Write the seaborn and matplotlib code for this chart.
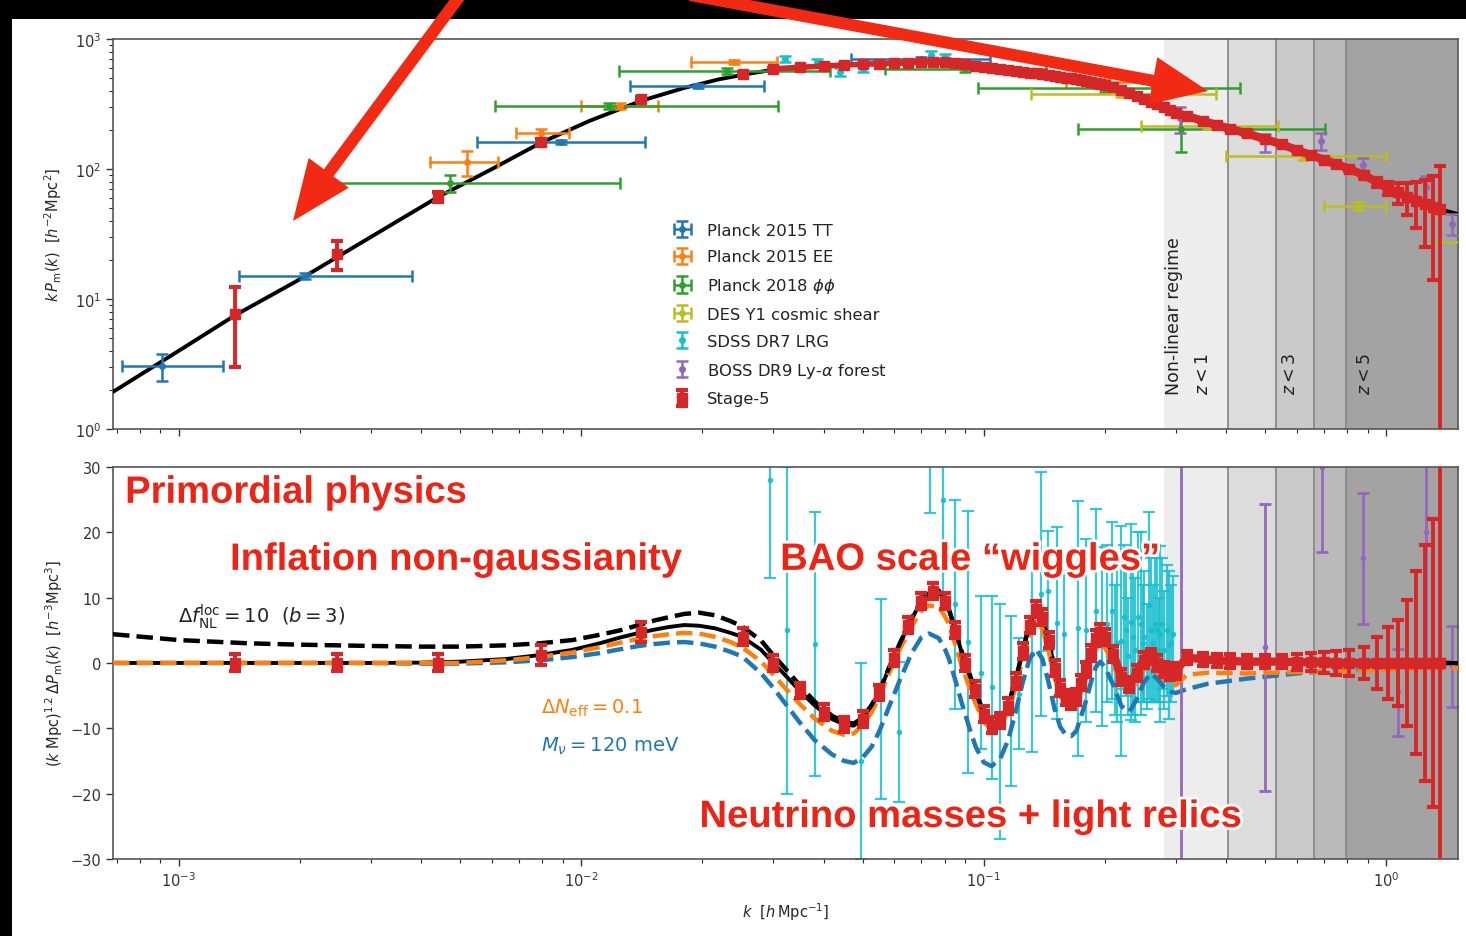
import numpy as np
import pandas as pd
import matplotlib
matplotlib.use('Agg')
import matplotlib.pyplot as plt
import matplotlib.patheffects as pe
from matplotlib.patches import FancyArrow, Rectangle
import seaborn as sns

# ---------------- data ----------------
# top panel: linear theory k P(k)
lin_k = [6.86e-4, 8e-4, 1e-3, 1.38e-3, 2e-3, 3e-3, 4.41e-3, 6e-3, 7.96e-3, 0.0105,
         0.0141, 0.018, 0.022, 0.026, 0.03, 0.035, 0.04, 0.05, 0.06, 0.07,
         0.08, 0.09, 0.1, 0.12, 0.14, 0.17, 0.2, 0.23, 0.26, 0.31,
         0.36, 0.41, 0.5, 0.6, 0.7, 0.8, 0.9, 1.0, 1.1, 1.2, 1.36, 1.51]
lin_P = [1.93, 2.6, 4.0, 7.5, 14.2, 30, 61, 100, 160, 235,
         335, 420, 490, 540, 580, 605, 620, 640, 650, 665,
         665, 640, 610, 570, 537, 490, 440, 385, 330, 262,
         228, 204, 170, 140, 118, 102, 86, 72, 63, 57, 49, 45]

# bottom panel: residual curves on a common k grid
curve_k = [6.86e-4, 1e-3, 1.5e-3, 2e-3, 3e-3, 4e-3, 5e-3, 6.5e-3, 7.86e-3, 0.0095,
           0.0111, 0.0125, 0.0139, 0.0152, 0.0165, 0.018, 0.0196, 0.0215, 0.0235, 0.0251,
           0.028, 0.030, 0.0325, 0.0348, 0.038, 0.042, 0.045, 0.0475, 0.050, 0.0527,
           0.055, 0.0581, 0.062, 0.0662, 0.070, 0.0731, 0.0773, 0.080, 0.0818, 0.085,
           0.0881, 0.092, 0.0955, 0.100, 0.1046, 0.110, 0.115, 0.120, 0.125, 0.130,
           0.135, 0.140, 0.145, 0.150, 0.155, 0.160, 0.165, 0.170, 0.175, 0.180,
           0.185, 0.190, 0.195, 0.200, 0.21, 0.22, 0.23, 0.24, 0.25, 0.26,
           0.27, 0.28, 0.29, 0.30, 0.32, 0.36, 0.45, 0.60, 0.80, 1.0, 1.51]
ref_v = [0, 0, 0, 0, 0, 0.05, 0.2, 0.6, 1.2, 2.0,
         3.0, 3.9, 4.6, 5.1, 5.5, 5.8, 5.7, 5.3, 4.6, 4.0,
         2.0, 0.0, -2.2, -4.2, -6.5, -8.6, -9.4, -9.6, -8.6, -6.6,
         -4.5, -0.9, 3.0, 6.7, 9.5, 10.7, 11.0, 9.5, 8.3, 5.0,
         1.7, -1.6, -4.4, -7.8, -9.5, -8.8, -6.6, -2.8, 1.8, 5.8,
         8.3, 7.0, 3.5, -0.8, -3.8, -5.3, -5.8, -5.2, -3.0, -1.0,
         1.5, 3.8, 4.7, 4.0, 1.4, -2.2, -3.3, -1.5, 0.5, 1.0,
         0.0, -1.0, -1.4, -1.2, 0.5, 0.4, 0.2, 0.1, 0.0, 0.0, 0.0]
fnl_v = [4.4, 3.5, 3.0, 2.8, 2.6, 2.5, 2.5, 2.7, 3.0, 3.5,
         4.3, 5.0, 5.8, 6.5, 7.0, 7.5, 7.7, 7.3, 6.4, 5.6,
         3.4, 1.2, -1.2, -3.3, -5.9, -8.1, -9.0, -9.3, -8.4, -6.4,
         -4.4, -0.8, 3.1, 6.8, 9.6, 10.8, 11.1, 9.6, 8.4, 5.1,
         1.8, -1.5, -4.3, -7.7, -9.4, -8.7, -6.5, -2.7, 1.9, 5.9,
         8.3, 7.0, 3.5, -0.8, -3.8, -5.3, -5.8, -5.2, -3.0, -1.0,
         1.5, 3.8, 4.7, 4.0, 1.4, -2.2, -3.3, -1.5, 0.5, 1.0,
         0.0, -1.0, -1.4, -1.2, 0.5, 0.4, 0.2, 0.1, 0.0, 0.0, 0.0]
neff_v = [0, 0, 0, 0, 0, 0, 0, 0.4, 0.9, 1.6,
          2.4, 3.1, 3.7, 4.1, 4.4, 4.6, 4.5, 4.0, 3.2, 2.4,
          0.2, -1.8, -4.2, -6.2, -8.5, -10.4, -11.0, -10.8, -9.6, -7.5,
          -5.2, -1.7, 2.2, 5.6, 8.0, 8.8, 8.6, 7.2, 6.0, 2.8,
          -0.4, -3.6, -6.2, -9.0, -10.2, -9.6, -7.4, -3.8, 0.6, 4.3,
          6.3, 5.2, 1.8, -2.2, -5.0, -6.4, -6.8, -6.2, -4.2, -2.2,
          0.3, 2.2, 3.0, 2.4, -0.2, -3.4, -4.4, -3.0, -1.0, -0.4,
          -1.4, -2.4, -3.2, -3.4, -1.8, -1.5, -1.6, -1.4, -1.2, -1.0, -0.8]
mnu_v = [0, 0, 0, 0, 0, -0.1, -0.1, 0.1, 0.4, 0.9,
         1.5, 2.1, 2.6, 2.9, 3.1, 3.2, 3.0, 2.5, 1.7, 1.0,
         -1.6, -3.8, -6.6, -9.0, -11.8, -14.0, -15.0, -15.3, -14.5, -12.8,
         -10.5, -6.8, -2.5, 1.5, 3.9, 4.5, 3.8, 2.2, 0.8, -2.6,
         -6.0, -9.8, -12.8, -15.2, -15.8, -14.6, -11.8, -7.6, -3.0, 0.6,
         2.1, 0.6, -3.0, -7.0, -9.8, -11.0, -11.2, -10.4, -8.0, -5.6,
         -2.8, -0.6, 0.2, -0.6, -3.4, -6.6, -7.5, -5.6, -3.0, -1.6,
         -2.4, -3.6, -4.4, -4.6, -4.0, -3.2, -2.4, -1.6, -1.0, -0.7, -0.4]

# Planck 2015 TT
tt_k = [9.06e-4, 2.06e-3, 8.9e-3, 0.0195, 0.070]
tt_P = [3.05, 15.0, 161, 435, 702]
tt_lo = [7.24e-4, 1.41e-3, 5.52e-3, 0.0132, 0.0468]
tt_hi = [1.29e-3, 3.80e-3, 0.0144, 0.0284, 0.1037]
tt_err = [0.72, 0.8, 6, 12, 20]
# Planck 2015 EE
ee_k = [5.21e-3, 7.96e-3, 0.0125, 0.024, 0.20]
ee_P = [113, 189, 305, 665, 470]
ee_lo = [4.21e-3, 6.9e-3, 0.0100, 0.0187, 0.16]
ee_hi = [6.22e-3, 9.3e-3, 0.0155, 0.0306, 0.26]
ee_err = [25, 15, 15, 25, 20]
# Planck 2018 lensing
pp_k = [4.73e-3, 0.0117, 0.023, 0.09, 0.20, 0.31]
pp_P = [78, 305, 568, 590, 418, 204]
pp_lo = [2.41e-3, 6.12e-3, 0.0124, 0.057, 0.097, 0.172]
pp_hi = [0.0125, 0.0308, 0.0416, 0.143, 0.433, 0.706]
pp_err = [12, 15, 30, 30, 30, 68]
# DES Y1 cosmic shear
des_k = [0.22, 0.36, 0.62, 0.85, 1.70]
des_P = [377, 214, 126, 52, 27.5]
des_lo = [0.131, 0.246, 0.40, 0.70, 1.31]
des_hi = [0.377, 0.54, 1.0, 1.0, 2.2]
des_err = [20, 12, 8, 4, 2]
# SDSS DR7 LRG
sdss_top_k = [0.032, 0.0386, 0.044, 0.05, 0.074, 0.08]
sdss_top_P = [700, 660, 560, 590, 760, 730]
sdss_top_err = [40, 40, 40, 30, 50, 40]
sdss_k = [0.0295, 0.0325, 0.0382, 0.0497, 0.0555, 0.0617, 0.0735, 0.0794, 0.0850, 0.0912,
          0.0985, 0.1046, 0.110, 0.1167, 0.1222, 0.1318, 0.139, 0.1445, 0.1525, 0.158,
          0.172, 0.180, 0.190, 0.197, 0.203, 0.209, 0.212, 0.215, 0.220, 0.223,
          0.226, 0.229, 0.232, 0.235, 0.238, 0.242, 0.246, 0.249, 0.251, 0.254,
          0.257, 0.260, 0.263, 0.266, 0.269, 0.272, 0.275, 0.278, 0.281, 0.285,
          0.288, 0.292, 0.296]
sdss_v = [28, 5, 2.9, -15, -5.5, -10.6, 32, 25, 9, 3.2,
          -1.5, -3.7, -9, -5.8, -4.7, 1.4, 10.6, 11, 6.1, 4.5,
          5.3, 5, 8, 4.1, 6, 8, 2, 3, 3.4, 7,
          5, 1, 6.3, 4, 2, 7, 6, 3, 4, 1,
          8.8, 5, 3, 6, 5, 2, 4.4, 6, 2, 5,
          2.7, 3, 4.4]
sdss_err = [15, 25, 20.2, 15, 15.3, 10.7, 9, 15, 16, 20,
            11.7, 14, 18, 13, 8.5, 15, 18.7, 9.2, 14.7, 9.6,
            19.5, 14, 15.5, 13.7, 12, 13.5, 10, 12, 17.6, 11,
            10, 9, 15, 12, 11, 13, 14, 9, 10, 8,
            14.3, 11, 9, 12, 11, 8, 13.5, 10, 9, 10,
            11.3, 9, 8.9]
# BOSS DR9 Ly-alpha forest
boss_top_k = [0.308, 0.50, 0.69, 0.877, 1.26, 1.46]
boss_top_P = [245, 160, 165, 107, 73, 38]
boss_top_err = [55, 25, 25, 15, 15, 7]
boss_k = [0.31, 0.501, 0.694, 0.877, 1.07, 1.26, 1.46]
boss_v = [0, 2.4, 30, 16, -4.5, 20, -0.5]
boss_err = [60, 22, 13, 10, 6.7, 20, 6.2]

# Stage-5 forecast
s5_low_k = [1.38e-3, 2.47e-3, 4.41e-3, 7.96e-3, 0.0141, 0.0252]
s5_low_P = [7.7, 22.2, 61, 161, 346, 540]
s5_low_Perr = [4.7, 5.6, 5, 8, 15, 15]
s5_low_v = [0, 0, 0, 1.2, 4.7, 4.0]
s5_low_verr = [1.3, 1.3, 1.3, 1.5, 1.5, 1.3]

s5_bao_k = [0.030, 0.035, 0.040, 0.045, 0.050, 0.055, 0.060, 0.065, 0.070, 0.075,
            0.080, 0.085, 0.090, 0.095, 0.100, 0.105, 0.110, 0.115, 0.120, 0.125,
            0.130, 0.135, 0.140, 0.145, 0.150, 0.155, 0.160, 0.165, 0.170, 0.175,
            0.180, 0.185, 0.190, 0.195, 0.200]
s5_bao_P = [590, 605, 620, 630, 640, 645, 650, 655, 665, 670,
            665, 655, 640, 625, 610, 600, 590, 580, 570, 560,
            552, 545, 537, 528, 520, 512, 505, 497, 490, 482,
            473, 465, 455, 448, 440]
s5_bao_v = [0.0, -4.2, -7.5, -9.4, -8.6, -4.5, 0.8, 5.8, 9.5, 11.0,
            9.5, 5.0, 0.0, -4.0, -7.8, -9.5, -8.8, -6.6, -2.8, 1.8,
            5.8, 8.3, 7.0, 3.5, -0.8, -3.8, -5.3, -5.8, -5.2, -3.0,
            -1.0, 1.5, 3.8, 4.7, 4.0]

s5_hi_k = [0.21, 0.22, 0.23, 0.24, 0.25, 0.26, 0.27, 0.28, 0.29, 0.30,
           0.32, 0.35, 0.38, 0.41, 0.45, 0.50, 0.55, 0.60, 0.65, 0.70,
           0.75, 0.81, 0.88, 0.95, 1.01, 1.07, 1.13, 1.19, 1.25, 1.31, 1.36]
s5_hi_P = [425, 405, 385, 365, 345, 330, 315, 300, 285, 272,
           255, 235, 218, 204, 188, 170, 155, 140, 128, 118,
           110, 100, 90, 79, 71, 66, 61, 57, 54, 51, 49]
s5_hi_Perr = [6, 6, 6, 6, 6, 6, 5, 5, 5, 5,
              5, 4, 4, 4, 4, 3, 3, 3, 3, 3,
              3, 3, 4, 6, 8, 12, 17, 22, 29, 37, 56]
s5_hi_v = [1.4, -2.2, -3.3, -1.5, 0.5, 1.0, 0.0, -1.0, -1.4, -1.2,
           0.8, 0.6, 0.4, 0.3, 0.2, 0.2, 0.2, 0.1, 0.1, 0.1,
           0.0, 0.0, 0.0, 0.0, 0.0, 0.0, 0.0, 0.0, 0.0, 0.0, 0.0]
s5_hi_verr = [1.2, 1.2, 1.2, 1.2, 1.2, 1.2, 1.2, 1.2, 1.2, 1.2,
              1.0, 1.0, 1.0, 1.0, 1.0, 1.0, 1.0, 1.2, 1.4, 1.6,
              1.8, 2.0, 2.5, 4.0, 5.5, 6.6, 9.7, 14, 18, 22, 40]

# non-linear regime bands
band_edges = [0.28, 0.405, 0.533, 0.663, 0.796, 1.51]
band_colors = ['#ededed', '#dcdcdc', '#cacaca', '#bababa', '#a3a3a3']
band_labels = [(0.297, 'Non-linear regime'), (0.35, '$z<1$'), (0.578, '$z<3$'), (0.887, '$z<5$')]

# ---------------- styling ----------------
sns.set_style('ticks')
plt.rcParams['font.family'] = ['DejaVu Sans']
plt.rcParams['mathtext.fontset'] = 'dejavusans'

C_TT, C_EE, C_PP, C_DES = '#1f77b4', '#ff7f0e', '#2ca02c', '#bcbd22'
C_SDSS, C_BOSS, C_S5 = '#17becf', '#9467bd', '#d62728'
RED = '#ec2416'

fig = plt.figure(figsize=(14.66, 9.37), dpi=100)
ax1 = fig.add_axes([0.0771, 0.5411, 0.9175, 0.4162])
ax2 = fig.add_axes([0.0771, 0.0822, 0.9175, 0.4184], sharex=ax1)
for ax in (ax1, ax2):
    ax.set_xscale('log')
ax1.set_yscale('log')
ax1.set_xlim(6.86e-4, 1.51)
ax1.set_ylim(1, 1000)
ax2.set_ylim(-30, 30)


def span(k, lo, hi):
    return [np.subtract(k, lo), np.subtract(hi, k)]


pt = dict(fmt='o', ms=4, elinewidth=1.8, capsize=4, capthick=1.8)
s5 = dict(color=C_S5, ms=7, elinewidth=2.8, capsize=4.5, capthick=3, zorder=6)

# shaded bands
for ax in (ax1, ax2):
    for i, c in enumerate(band_colors):
        ax.axvspan(band_edges[i], band_edges[i + 1], color=c, lw=0, zorder=0)
    for e in band_edges[1:-1]:
        ax.axvline(e, color='#8a8a8a', lw=1.3, zorder=0.5)

for kx, txt in band_labels:
    ax1.text(kx, 1.85, txt, rotation=90, ha='center', va='bottom', fontsize=12.5, color='#222222')

# ---- top panel ----
sns.lineplot(x=lin_k, y=lin_P, color='k', lw=2.8, ax=ax1, estimator=None, sort=False, zorder=3)

h_tt = ax1.errorbar(tt_k, tt_P, yerr=tt_err, xerr=span(tt_k, tt_lo, tt_hi), color=C_TT, zorder=4, **pt)
h_ee = ax1.errorbar(ee_k, ee_P, yerr=ee_err, xerr=span(ee_k, ee_lo, ee_hi), color=C_EE, zorder=4, **pt)
h_pp = ax1.errorbar(pp_k, pp_P, yerr=pp_err, xerr=span(pp_k, pp_lo, pp_hi), color=C_PP, zorder=4, **pt)
h_des = ax1.errorbar(des_k, des_P, yerr=des_err, xerr=span(des_k, des_lo, des_hi), color=C_DES, zorder=4, **pt)
h_sdss = ax1.errorbar(sdss_top_k, sdss_top_P, yerr=sdss_top_err, color=C_SDSS, zorder=4, **pt)
h_boss = ax1.errorbar(boss_top_k, boss_top_P, yerr=boss_top_err, color=C_BOSS, zorder=4, **pt)
h_s5 = ax1.errorbar(s5_low_k, s5_low_P, yerr=s5_low_Perr, fmt='s', **s5)
ax1.errorbar(s5_bao_k, s5_bao_P, yerr=8, fmt='-s', lw=4, **s5)
ax1.errorbar(s5_hi_k, s5_hi_P, yerr=s5_hi_Perr, fmt='-s', lw=6, **s5)

ax1.legend([h_tt, h_ee, h_pp, h_des, h_sdss, h_boss, h_s5],
           ['Planck 2015 TT', 'Planck 2015 EE', r'Planck 2018 $\phi\phi$', 'DES Y1 cosmic shear',
            'SDSS DR7 LRG', r'BOSS DR9 Ly-$\alpha$ forest', 'Stage-5'],
           loc='lower left', bbox_to_anchor=(0.405, 0.02), frameon=False, fontsize=11.8,
           handlelength=1.2, handletextpad=0.9, labelspacing=0.72, labelcolor='#222222')

ax1.set_ylabel(r'$k\,P_{\rm m}(k)$  [$h^{-2}{\rm Mpc}^2$]', fontsize=10.5, labelpad=8)
ax1.tick_params(labelbottom=False)

# ---- bottom panel ----
df = pd.DataFrame({'k': curve_k, 'ref': ref_v, 'fnl': fnl_v, 'neff': neff_v, 'mnu': mnu_v})
sns.lineplot(data=df, x='k', y='mnu', color=C_TT, lw=3.2, linestyle='--', ax=ax2,
             estimator=None, sort=False, zorder=2)
sns.lineplot(data=df, x='k', y='ref', color='k', lw=2.8, ax=ax2, estimator=None, sort=False, zorder=3)
sns.lineplot(data=df, x='k', y='neff', color=C_EE, lw=3.2, linestyle='--', ax=ax2,
             estimator=None, sort=False, zorder=3.5)
sns.lineplot(data=df, x='k', y='fnl', color='k', lw=3.2, linestyle='--', ax=ax2,
             estimator=None, sort=False, zorder=4)

ax2.errorbar(sdss_k, sdss_v, yerr=sdss_err, color=C_SDSS, alpha=0.85, fmt='o', ms=3,
             elinewidth=1.6, capsize=4, capthick=1.6, zorder=1.5)
ax2.errorbar(boss_k, boss_v, yerr=boss_err, color=C_BOSS, fmt='o', ms=3,
             elinewidth=2, capsize=4, capthick=2, zorder=2)
ax2.errorbar(s5_low_k, s5_low_v, yerr=s5_low_verr, fmt='s', **s5)
ax2.errorbar(s5_bao_k, s5_bao_v, yerr=1.2, fmt='s', **s5)
ax2.errorbar(s5_hi_k, s5_hi_v, yerr=s5_hi_verr, fmt='-s', lw=6, **s5)

ax2.set_yticks([-30, -20, -10, 0, 10, 20, 30])
ax2.set_ylabel(r'$(k\ {\rm Mpc})^{1.2}\,\Delta P_{\rm m}(k)$  [$h^{-3}{\rm Mpc}^3$]', fontsize=10.5, labelpad=4)
ax2.set_xlabel(r'$k$  [$h\,$Mpc$^{-1}$]', fontsize=10.5, labelpad=8)

ax2.text(0.048, 0.62, r'$\Delta f_{\rm NL}^{\rm loc} = 10$  $(b = 3)$', transform=ax2.transAxes,
         fontsize=14, color='#222222', va='center', zorder=8)
ax2.text(0.318, 0.388, r'$\Delta N_{\rm eff} = 0.1$', transform=ax2.transAxes,
         fontsize=14, color=C_EE, va='center', zorder=8)
ax2.text(0.318, 0.291, r'$M_\nu = 120$ meV', transform=ax2.transAxes,
         fontsize=14, color=C_TT, va='center', zorder=8)

glow = [pe.withStroke(linewidth=4, foreground='white')]
for x, y, txt in [(0.009, 0.934, 'Primordial physics'),
                  (0.087, 0.763, 'Inflation non-gaussianity'),
                  (0.496, 0.763, 'BAO scale \u201cwiggles\u201d'),
                  (0.436, 0.107, 'Neutrino masses + light relics')]:
    ax2.text(x, y, txt, transform=ax2.transAxes, fontsize=27.5, fontweight='bold',
             family=['Liberation Sans', 'DejaVu Sans'], color=RED, va='center',
             path_effects=glow, zorder=9)

for ax in (ax1, ax2):
    ax.tick_params(which='major', direction='out', length=5, width=1, labelsize=10.5, colors='#333333')
    ax.tick_params(which='minor', direction='out', length=3, width=0.8)
    for s in ax.spines.values():
        s.set_color('#555555')
        s.set_linewidth(1.2)

# ---- screenshot frame and arrows ----
ov = fig.add_axes([0, 0, 1, 1], zorder=20)
ov.set_xlim(0, 1466)
ov.set_ylim(937, 0)
ov.axis('off')
ov.patch.set_alpha(0)
ov.add_patch(Rectangle((0, 0), 1466, 20, color='black', lw=0))
ov.add_patch(Rectangle((0, 0), 12, 937, color='black', lw=0))
ov.add_patch(FancyArrow(462, -6, 293 - 462, 222 + 6, width=12, head_width=50, head_length=60,
                        length_includes_head=True, color='#f22a14', lw=0))
ov.add_patch(FancyArrow(690, -4, 1208 - 690, 92 + 4, width=12, head_width=48, head_length=56,
                        length_includes_head=True, color='#f22a14', lw=0))

fig.savefig('out.png', dpi=100)
plt.close(fig)
